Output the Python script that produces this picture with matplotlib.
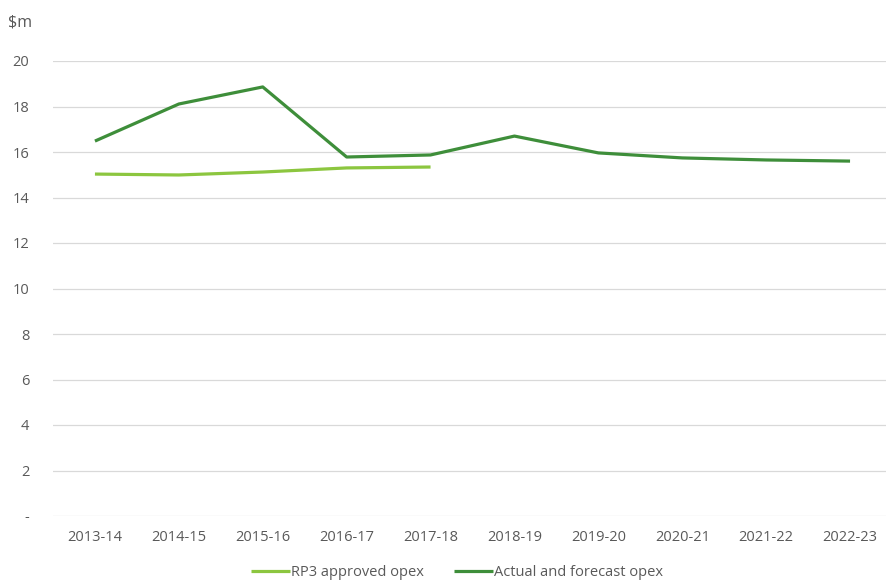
import matplotlib.pyplot as plt
from matplotlib.ticker import FixedLocator

years = ["2013-14", "2014-15", "2015-16", "2016-17", "2017-18",
         "2018-19", "2019-20", "2020-21", "2021-22", "2022-23"]
rp3_approved = [15.03, 14.99, 15.12, 15.30, 15.34]
actual_forecast = [16.48, 18.11, 18.86, 15.78, 15.87,
                   16.70, 15.96, 15.74, 15.65, 15.60]
yticks = [0, 2, 4, 6, 8, 10, 12, 14, 16, 18, 20]
ytick_labels = ["-"] + [str(v) for v in yticks[1:]]

text_grey = "#595959"
plt.rcParams["font.family"] = ["Open Sans", "DejaVu Sans"]

fig = plt.figure(figsize=(8.86, 5.83), dpi=100)
ax = fig.add_axes([53 / 886, 1 - 516 / 583, 839 / 886, (516 - 61) / 583])

x = list(range(len(years)))
ax.plot(x[:len(rp3_approved)], rp3_approved, color="#8CC63F", lw=2.3,
        label="RP3 approved opex", solid_capstyle="butt")
ax.plot(x, actual_forecast, color="#3E8E3A", lw=2.3,
        label="Actual and forecast opex", solid_capstyle="butt")

ax.set_xlim(-0.5, len(years) - 0.5)
ax.set_ylim(0, 20)
ax.set_xticks(x)
ax.set_xticklabels(years)
ax.yaxis.set_major_locator(FixedLocator(yticks))
ax.set_yticklabels(ytick_labels)
ax.tick_params(length=0, colors=text_grey, labelsize=10.5)
ax.tick_params(axis="y", pad=17)
ax.tick_params(axis="x", pad=10)
ax.grid(axis="y", color="#D9D9D9", lw=0.9)
ax.set_axisbelow(True)
for s in ax.spines.values():
    s.set_visible(False)

fig.text(8 / 886, 1 - 22 / 583, "$m", color=text_grey, fontsize=11.5,
         va="center", ha="left")

leg = fig.legend(loc="center", bbox_to_anchor=(457 / 886, 1 - 573 / 583),
                 ncol=2, frameon=False, fontsize=10.5, handlelength=2.7,
                 handletextpad=0.1, columnspacing=2.0)
for t in leg.get_texts():
    t.set_color(text_grey)

fig.savefig("out.png", dpi=100)
